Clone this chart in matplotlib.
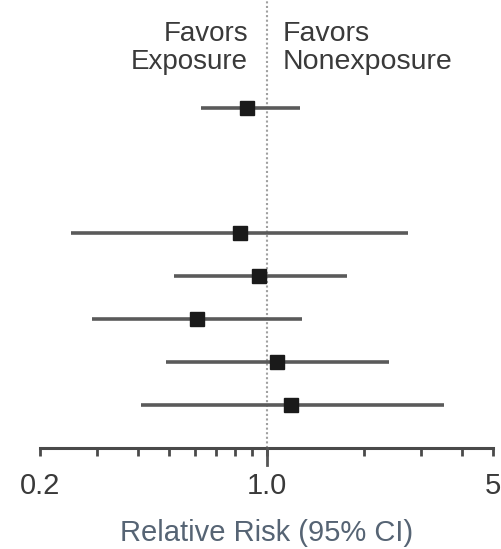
import matplotlib
matplotlib.use("Agg")
import matplotlib.pyplot as plt
from matplotlib.ticker import FixedLocator, NullFormatter
import matplotlib.transforms as mtransforms

# Data (relative risk and 95% CI)
rows = [0, 2.9, 3.9, 4.9, 5.9, 6.9]
rr = [0.87, 0.83, 0.95, 0.61, 1.08, 1.19]
lower = [0.63, 0.25, 0.52, 0.29, 0.49, 0.41]
upper = [1.27, 2.74, 1.77, 1.29, 2.39, 3.52]
major_ticks = [0.2, 1.0, 5]
major_labels = ["0.2", "1.0", "5"]
minor_ticks = [0.3, 0.4, 0.5, 0.6, 0.7, 0.8, 0.9, 2, 3, 4]

W, H = 501, 549
plt.rcParams['font.family'] = ['Liberation Sans', 'DejaVu Sans']
fig = plt.figure(figsize=(W / 100, H / 100), dpi=100)

left, right = 40 / W, 493 / W
top_px, bot_px = 0, 448
ax = fig.add_axes([left, 1 - bot_px / H, right - left, (bot_px - top_px) / H])
ax.set_xscale('log')
ax.set_xlim(0.2, 5)
px_per_row = 43
ax.set_ylim((bot_px - 108) / px_per_row, (top_px - 108) / px_per_row)

for sp in ['top', 'left', 'right']:
    ax.spines[sp].set_visible(False)
ax.spines['bottom'].set_color('#4a4a4a')
ax.spines['bottom'].set_linewidth(2.2)
ax.patch.set_alpha(0)

ax.axvline(1.0, color='#a0a0a0', lw=1.5, ls=(0, (1, 1.2)), zorder=1)

for r, m, lo, hi in zip(rows, rr, lower, upper):
    ax.plot([lo, hi], [r, r], color='#5a5a5a', lw=2.6, solid_capstyle='butt', zorder=2)
    ax.plot([m], [r], marker='s', ms=9.5, color='#1a1a1a', zorder=3)

ax.xaxis.set_major_locator(FixedLocator(major_ticks))
ax.xaxis.set_minor_locator(FixedLocator(minor_ticks))
ax.xaxis.set_minor_formatter(NullFormatter())
ax.set_xticklabels(major_labels)
ax.tick_params(axis='x', which='major', length=6, width=2, color='#4a4a4a',
               labelsize=21, labelcolor='#3a3a3a', pad=11)
ax.tick_params(axis='x', which='minor', length=6, width=2, color='#4a4a4a')
ax.set_yticks([])

# longer tick at 1.0
trans = mtransforms.blended_transform_factory(ax.transData, ax.transAxes)
ax.plot([1.0, 1.0], [0, -17 / (bot_px - top_px)], transform=trans, color='#555555',
        lw=2, clip_on=False, zorder=4)

ax.set_xlabel("Relative Risk (95% CI)", fontsize=21, color='#566474', labelpad=14)

ax.text(0.877, -2.02, "Favors\nExposure", ha='right', va='top', fontsize=20,
        color='#3a3a3a', linespacing=1.1)
ax.text(1.124, -2.02, "Favors\nNonexposure", ha='left', va='top', fontsize=20.5,
        color='#3a3a3a', linespacing=1.1)

fig.savefig("out.png", dpi=100)
